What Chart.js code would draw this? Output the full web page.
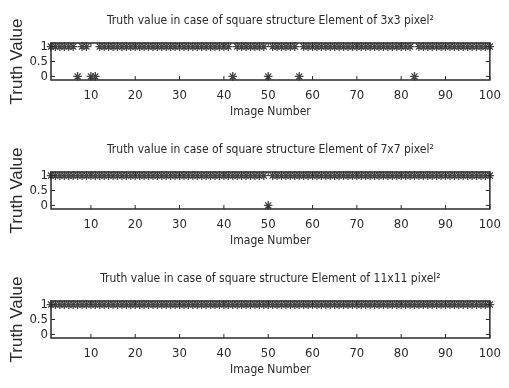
<!DOCTYPE html>
<html>
<head>
<meta charset="utf-8">
<script src="https://cdn.jsdelivr.net/npm/chart.js@4.4.0/dist/chart.umd.min.js"></script>
<style>
  body { margin: 0; background: #fff; }
  .plot { position: absolute; left: 0; width: 509px; height: 129px; }
</style>
</head>
<body>
<canvas id="p1" class="plot" width="509" height="129" style="top:0px"></canvas>
<canvas id="p2" class="plot" width="509" height="129" style="top:129px"></canvas>
<canvas id="p3" class="plot" width="509" height="129" style="top:258px"></canvas>
<script>
// image numbers on the x axis
const imageNumber = [
  1, 2, 3, 4, 5, 6, 7, 8, 9, 10,
  11, 12, 13, 14, 15, 16, 17, 18, 19, 20,
  21, 22, 23, 24, 25, 26, 27, 28, 29, 30,
  31, 32, 33, 34, 35, 36, 37, 38, 39, 40,
  41, 42, 43, 44, 45, 46, 47, 48, 49, 50,
  51, 52, 53, 54, 55, 56, 57, 58, 59, 60,
  61, 62, 63, 64, 65, 66, 67, 68, 69, 70,
  71, 72, 73, 74, 75, 76, 77, 78, 79, 80,
  81, 82, 83, 84, 85, 86, 87, 88, 89, 90,
  91, 92, 93, 94, 95, 96, 97, 98, 99, 100
];

// truth values, 3x3 structure element
const truth3x3 = [
  1, 1, 1, 1, 1, 1, 0, 1, 1, 0,
  0, 1, 1, 1, 1, 1, 1, 1, 1, 1,
  1, 1, 1, 1, 1, 1, 1, 1, 1, 1,
  1, 1, 1, 1, 1, 1, 1, 1, 1, 1,
  1, 0, 1, 1, 1, 1, 1, 1, 1, 0,
  1, 1, 1, 1, 1, 1, 0, 1, 1, 1,
  1, 1, 1, 1, 1, 1, 1, 1, 1, 1,
  1, 1, 1, 1, 1, 1, 1, 1, 1, 1,
  1, 1, 0, 1, 1, 1, 1, 1, 1, 1,
  1, 1, 1, 1, 1, 1, 1, 1, 1, 1
];

// truth values, 7x7 structure element
const truth7x7 = [
  1, 1, 1, 1, 1, 1, 1, 1, 1, 1,
  1, 1, 1, 1, 1, 1, 1, 1, 1, 1,
  1, 1, 1, 1, 1, 1, 1, 1, 1, 1,
  1, 1, 1, 1, 1, 1, 1, 1, 1, 1,
  1, 1, 1, 1, 1, 1, 1, 1, 1, 0,
  1, 1, 1, 1, 1, 1, 1, 1, 1, 1,
  1, 1, 1, 1, 1, 1, 1, 1, 1, 1,
  1, 1, 1, 1, 1, 1, 1, 1, 1, 1,
  1, 1, 1, 1, 1, 1, 1, 1, 1, 1,
  1, 1, 1, 1, 1, 1, 1, 1, 1, 1
];

// truth values, 11x11 structure element
const truth11x11 = [
  1, 1, 1, 1, 1, 1, 1, 1, 1, 1,
  1, 1, 1, 1, 1, 1, 1, 1, 1, 1,
  1, 1, 1, 1, 1, 1, 1, 1, 1, 1,
  1, 1, 1, 1, 1, 1, 1, 1, 1, 1,
  1, 1, 1, 1, 1, 1, 1, 1, 1, 1,
  1, 1, 1, 1, 1, 1, 1, 1, 1, 1,
  1, 1, 1, 1, 1, 1, 1, 1, 1, 1,
  1, 1, 1, 1, 1, 1, 1, 1, 1, 1,
  1, 1, 1, 1, 1, 1, 1, 1, 1, 1,
  1, 1, 1, 1, 1, 1, 1, 1, 1, 1
];

const titles = [
  'Truth value in case of square structure Element of 3x3 pixel\u00B2',
  'Truth value in case of square structure Element of 7x7 pixel\u00B2',
  'Truth value in case of square structure Element of 11x11 pixel\u00B2'
];

const xTicks = [10, 20, 30, 40, 50, 60, 70, 80, 90, 100];
const yTicks = [0, 0.5, 1];

const narrow = "'DejaVu Sans Condensed', 'Liberation Sans Narrow', 'Liberation Sans', sans-serif";
const ink = '#2a2a2a';

// matlab style box with inward ticks
const boxPlugin = {
  id: 'box',
  afterDraw(chart) {
    const {ctx, chartArea: a, scales: {x, y}} = chart;
    ctx.save();
    ctx.strokeStyle = ink;
    ctx.lineWidth = 1.5;
    ctx.strokeRect(a.left, a.top, a.right - a.left, a.bottom - a.top);
    ctx.lineWidth = 1;
    ctx.beginPath();
    x.ticks.forEach(t => {
      const px = x.getPixelForValue(t.value);
      ctx.moveTo(px, a.bottom); ctx.lineTo(px, a.bottom - 4);
      ctx.moveTo(px, a.top); ctx.lineTo(px, a.top + 4);
    });
    y.ticks.forEach(t => {
      const py = y.getPixelForValue(t.value);
      ctx.moveTo(a.left, py); ctx.lineTo(a.left + 4, py);
      ctx.moveTo(a.right, py); ctx.lineTo(a.right - 4, py);
    });
    ctx.stroke();
    ctx.restore();
  }
};

function makePlot(id, title, values) {
  new Chart(document.getElementById(id), {
    type: 'scatter',
    data: {
      datasets: [{
        data: imageNumber.map((n, i) => ({x: n, y: values[i]})),
        pointStyle: 'star',
        pointRadius: 4.3,
        borderColor: '#454545',
        backgroundColor: '#454545',
        borderWidth: 1.3,
        clip: false
      }]
    },
    options: {
      responsive: false,
      animation: false,
      layout: { padding: { top: 0, right: 10, bottom: 0, left: 0 } },
      plugins: {
        legend: { display: false },
        tooltip: { enabled: false }
      },
      scales: {
        // top axis only carries the plot title, centred over the box
        top: {
          type: 'linear', position: 'top', axis: 'x',
          min: 1, max: 100,
          afterFit: s => { s.height = 43; },
          grid: { display: false, drawTicks: false },
          border: { display: false },
          ticks: { display: false },
          title: { display: true, text: title, color: ink,
                   font: { family: narrow, size: 12 }, padding: { top: 14, bottom: 0 } }
        },
        x: {
          type: 'linear',
          min: 1, max: 100,
          afterBuildTicks: s => { s.ticks = xTicks.map(v => ({value: v})); },
          afterFit: s => { s.height = 49; },
          grid: { display: false, drawTicks: false },
          border: { display: false },
          ticks: { autoSkip: false, maxRotation: 0, padding: 8, color: ink,
                   font: { family: narrow, size: 13 } },
          title: { display: true, text: 'Image Number', color: ink,
                   font: { family: narrow, size: 12 }, padding: { top: 0, bottom: 10 } }
        },
        y: {
          min: -0.12, max: 1.12,
          afterBuildTicks: s => { s.ticks = yTicks.map(v => ({value: v})); },
          afterFit: s => { s.width = 51; },
          grid: { display: false, drawTicks: false },
          border: { display: false },
          ticks: { autoSkip: false, padding: 3, color: ink,
                   font: { family: narrow, size: 13 },
                   callback: v => String(v) },
          title: { display: true, text: 'Truth Value', color: ink,
                   font: { family: "'Liberation Sans', Arial, sans-serif", size: 17 },
                   padding: { top: 7, bottom: 0 } }
        }
      }
    },
    plugins: [boxPlugin]
  });
}

makePlot('p1', titles[0], truth3x3);
makePlot('p2', titles[1], truth7x7);
makePlot('p3', titles[2], truth11x11);
</script>
</body>
</html>
